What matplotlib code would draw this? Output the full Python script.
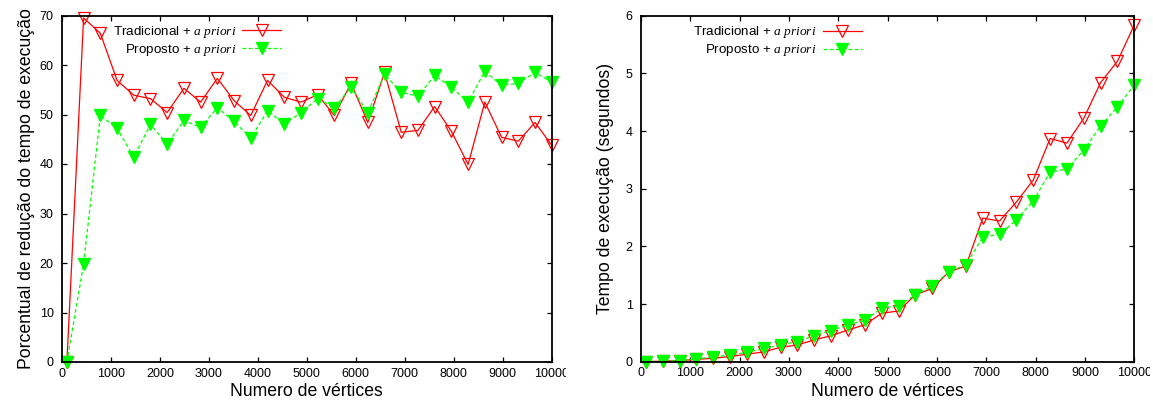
import numpy as np
import matplotlib.pyplot as plt
from matplotlib.transforms import Bbox

plt.rcParams['font.family'] = ['Liberation Sans', 'DejaVu Sans']
plt.rcParams['mathtext.fontset'] = 'custom'
plt.rcParams['mathtext.it'] = 'Liberation Serif:italic'
plt.rcParams['mathtext.rm'] = 'Liberation Serif'

# numero de vertices
vertices = [100, 441, 783, 1124, 1466, 1807, 2148, 2490, 2831, 3172,
            3514, 3855, 4197, 4538, 4879, 5221, 5562, 5903, 6245, 6586,
            6928, 7269, 7610, 7952, 8293, 8634, 8976, 9317, 9659, 10000]

# porcentual de reducao (grafico da esquerda)
reducao_trad = [0, 69.5, 66.4, 56.9, 53.9, 53.2, 50.4, 55.3, 52.5, 57.3,
                52.8, 49.8, 56.9, 53.5, 52.5, 54.0, 49.8, 56.3, 48.4, 58.5,
                46.4, 46.8, 51.6, 46.6, 39.9, 52.5, 45.4, 44.6, 48.4, 43.8]
reducao_prop = [0, 19.8, 49.8, 47.2, 41.4, 48.0, 44.0, 48.8, 47.4, 51.4,
                48.6, 45.2, 50.8, 48.0, 50.4, 53.2, 51.4, 55.5, 50.4, 58.1,
                54.5, 53.7, 57.9, 55.5, 52.5, 58.7, 55.9, 56.3, 58.5, 56.5]

# tempo de execucao em segundos (grafico da direita)
tempo_trad = [0.00, 0.01, 0.02, 0.04, 0.06, 0.09, 0.13, 0.17, 0.25, 0.29,
              0.38, 0.45, 0.55, 0.64, 0.84, 0.88, 1.16, 1.27, 1.56, 1.66,
              2.49, 2.44, 2.77, 3.15, 3.87, 3.79, 4.22, 4.84, 5.21, 5.84]
tempo_prop = [0.00, 0.01, 0.02, 0.05, 0.08, 0.12, 0.16, 0.23, 0.29, 0.35,
              0.45, 0.54, 0.64, 0.72, 0.93, 0.97, 1.16, 1.31, 1.56, 1.68,
              2.16, 2.21, 2.46, 2.79, 3.29, 3.34, 3.67, 4.09, 4.42, 4.80]

xticks = [0, 1000, 2000, 3000, 4000, 5000, 6000, 7000, 8000, 9000, 10000]
lbl_trad = r'Tradicional + $\mathit{a\ priori}$'
lbl_prop = r'Proposto + $\mathit{a\ priori}$'

W, H = 1153, 405
fig = plt.figure(figsize=(W / 100, H / 100), dpi=100)
ax1 = fig.add_axes([62 / W, 43 / H, 489.7 / W, 346.5 / H])
ax2 = fig.add_axes([641 / W, 43.3 / H, 493.3 / W, 346 / H])

panels = [
    (ax1, reducao_trad, reducao_prop, 70, [0, 10, 20, 30, 40, 50, 60, 70],
     'Porcentual de redução do tempo de execução', 566),
    (ax2, tempo_trad, tempo_prop, 6, [0, 1, 2, 3, 4, 5, 6],
     'Tempo de execução (segundos)', 1150),
]

for ax, trad, prop, ymax, yticks, ylabel, clipx in panels:
    ax.plot(vertices, trad, color='#ff0000', lw=0.9, marker='v', ms=9,
            mfc='none', mec='#ff0000', mew=0.9, clip_on=False, label=lbl_trad)
    ax.plot(vertices, prop, color='#00ff00', lw=0.9, ls=(0, (3, 2)),
            marker='v', ms=9, mfc='#00ff00', mec='#00ff00', clip_on=False,
            label=lbl_prop)
    ax.set_xlim(0, 10000)
    ax.set_ylim(0, ymax)
    ax.set_xticks(xticks)
    ax.set_yticks(yticks)
    ax.tick_params(direction='in', top=True, right=True, length=3.6,
                   width=0.9, labelsize=9)
    ax.tick_params(axis='x', pad=4)
    ax.tick_params(axis='y', pad=6)
    for sp in ax.spines.values():
        sp.set_linewidth(1.3)
    ax.set_xlabel('Numero de vértices', fontsize=12.7)
    ax.set_ylabel(ylabel, fontsize=12.7)
    ax.xaxis.set_label_coords(0.5, -0.061)
    ax.yaxis.set_label_coords(-0.055, 0.5)
    ax.legend(loc='upper right', bbox_to_anchor=(0.447, 0.975), frameon=False,
              markerfirst=False, fontsize=9.6, handlelength=2.9,
              handletextpad=0.45, borderpad=0, borderaxespad=0,
              labelspacing=0.15, numpoints=1)

fig.canvas.draw()
for ax, trad, prop, ymax, yticks, ylabel, clipx in panels:
    box = Bbox.from_extents(0, 0, clipx, H)
    for lab in ax.get_xticklabels():
        lab.set_clip_box(box)
        lab.set_clip_on(True)

fig.savefig('out.png', dpi=100)
